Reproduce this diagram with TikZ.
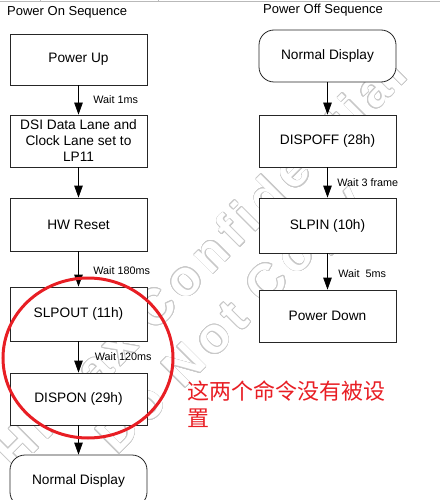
\documentclass[tikz,border=0pt]{standalone}
\usepackage{fontspec}
\setmainfont{Liberation Sans}
\newfontfamily\cjkfont{Noto Sans CJK SC}
\newfontfamily\markfont[LetterSpace=13]{Liberation Sans}
\usepackage{contour}
\usetikzlibrary{arrows.meta}
\definecolor{notered}{RGB}{232,30,36}
\definecolor{markgray}{RGB}{200,200,200}
\contourlength{0.7pt}
\contournumber{24}
\tikzset{
    stepbox/.style={draw=black!85,fill=white,line width=0.8pt,minimum width=137pt,minimum height=52pt,align=center,inner sep=2pt,font=\fontsize{13.7}{16}\selectfont},
    roundbox/.style={stepbox,rounded corners=15pt},
    flow/.style={-{Triangle[length=12pt,width=8.5pt]},line width=0.8pt},
    wait/.style={anchor=west,xshift=#1,inner sep=0pt,font=\fontsize{10.8}{12}\selectfont},
    wait/.default=14.5pt,
    seqtitle/.style={anchor=west,inner sep=0pt,font=\fontsize{13}{15}\selectfont},
    watermark/.style={rotate=45,inner sep=0pt,text=white,font=\markfont\bfseries\fontsize{50}{52}\selectfont}
}
\def\lcol{78.5}
\def\rcol{327.5}

\begin{document}
\begin{tikzpicture}[x=1pt,y=-1pt]
  \useasboundingbox (0,0) rectangle (440,500);

  % Watermark
  \node[watermark] (wmone) at (200,262) {\contour{markgray}{Himax Confidential}};
  \node[watermark] (wmtwo) at (234,322) {\contour{markgray}{Do Not Copy}};

  % Table edge
  \draw[gray!55] (0,1.5) -- (440,1.5) (40,0) -- (40,1.5) (158,0) -- (158,1.5);

  % Power on
  \node[seqtitle] (ontitle) at (7,12) {Power On Sequence};
  \node[stepbox,minimum height=51pt] (powerup) at (\lcol,59.5) {Power Up};
  \node[stepbox] (dsi) at (\lcol,141) {DSI Data Lane and\\Clock Lane set to\\LP11};
  \node[stepbox,minimum height=53pt] (hwreset) at (\lcol,224.5) {HW Reset};
  \node[stepbox,minimum height=54pt] (slpout) at (\lcol,314) {SLPOUT (11h)};
  \node[stepbox] (dispon) at (\lcol,399) {DISPON (29h)};
  \node[roundbox] (normalon) at (\lcol,481) {Normal Display};

  \draw[flow] (powerup) -- (dsi) node[wait,midway] {Wait 1ms};
  \draw[flow] (dsi) -- (hwreset);
  \draw[flow] (hwreset) -- (slpout) node[wait,midway,yshift=-1.5pt] {Wait 180ms};
  \draw[flow] (slpout) -- (dispon) node[wait,midway,xshift=1.5pt] {Wait 120ms};
  \draw[flow] (dispon) -- (normalon);

  % Power off
  \node[seqtitle] (offtitle) at (263,10) {Power Off Sequence};
  \node[roundbox] (normaloff) at (\rcol,56) {Normal Display};
  \node[stepbox] (dispoff) at (\rcol,141) {DISPOFF (28h)};
  \node[stepbox,minimum height=55pt] (slpin) at (\rcol,225.5) {SLPIN (10h)};
  \node[stepbox] (powerdown) at (\rcol,316) {Power Down};

  \draw[flow] (normaloff) -- (dispoff);
  \draw[flow] (dispoff) -- (slpin) node[wait=9.5pt,midway] {Wait 3 frame};
  \draw[flow] (slpin) -- (powerdown) node[wait=10.5pt,midway,yshift=-2pt] {Wait\ \ 5ms};

  % Note
  \draw[notered,line width=3pt] (88,358) ellipse [x radius=85,y radius=80];
  \node[anchor=north west,inner sep=0pt,align=left,text=notered,font=\cjkfont\fontsize{22}{27}\selectfont] (note) at (187,381) {这两个命令没有被设\\置};
\end{tikzpicture}
\end{document}
